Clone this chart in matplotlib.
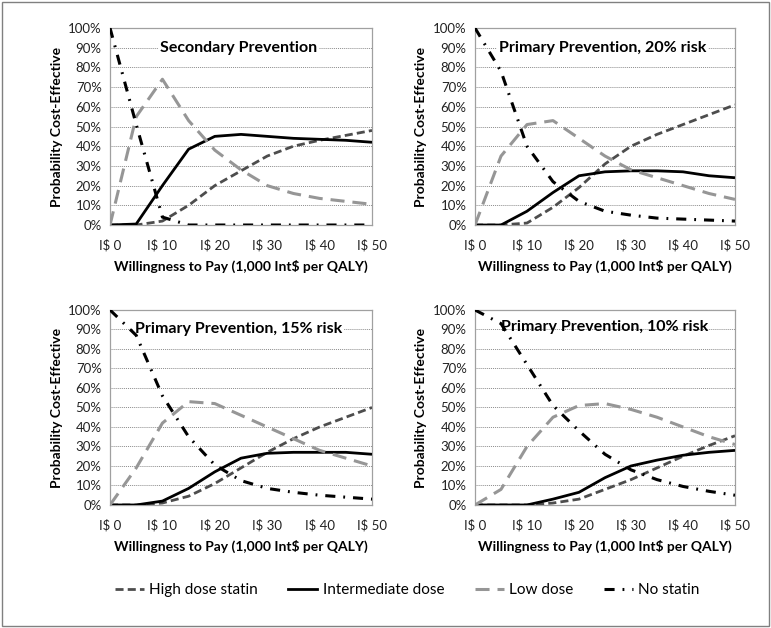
import matplotlib.pyplot as plt
from matplotlib.lines import Line2D
from matplotlib.patches import Rectangle

plt.rcParams['font.family'] = ['Lato', 'DejaVu Sans']

# willingness to pay, 1,000 Int$ per QALY
wtp = [0, 5, 10, 15, 20, 25, 30, 35, 40, 45, 50]
xtick_labels = ['I$ 0', 'I$ 10', 'I$ 20', 'I$ 30', 'I$ 40', 'I$ 50']
ytick_labels = [f'{v}%' for v in range(0, 101, 10)]

titles = ['Secondary Prevention', 'Primary Prevention, 20% risk',
          'Primary Prevention, 15% risk', 'Primary Prevention, 10% risk']
series_names = ['High dose statin', 'Intermediate dose', 'Low dose', 'No statin']

# probability cost-effective (%)
sec_high = [0, 0, 2, 10, 20, 27.5, 35, 40, 43, 45.5, 48]
sec_inter = [0, 0.5, 20, 38.5, 45, 46, 45, 44, 43.5, 43, 42]
sec_low = [0, 55, 74, 53, 38, 28, 20, 16, 13.5, 12, 10.5]
sec_none = [100, 51, 4, 0, 0, 0, 0, 0, 0, 0, 0]

p20_high = [0, 0, 1, 9, 19, 31, 40, 46, 51, 56, 61]
p20_inter = [0, 0, 7, 16.5, 25, 27, 27.5, 27.5, 27, 25, 24]
p20_low = [0, 35, 51, 53, 44, 35, 28, 24, 20, 16, 13]
p20_none = [100, 78, 40, 22, 12, 7, 5, 3.5, 3, 2.5, 2]

p15_high = [0, 0, 1, 4.5, 11, 19, 27, 34, 40, 45, 50]
p15_inter = [0, 0, 2, 8.5, 17, 24, 26.5, 27, 27, 27, 26]
p15_low = [0, 19, 42, 53, 52, 46, 40, 34, 28, 24, 20]
p15_none = [100, 87, 56, 35, 20.5, 12.5, 8.5, 6.5, 5, 4, 3]

p10_high = [0, 0, 0, 1, 3, 8, 13, 19, 25, 30.5, 35.5]
p10_inter = [0, 0, 0, 3, 6.5, 14, 20, 23, 25.5, 27, 28]
p10_low = [0, 8, 30, 45, 51, 52, 49, 45, 40, 35, 31]
p10_none = [100, 93, 72, 51, 38, 26, 18, 13, 9.5, 7, 5]

panels = [
    (sec_high, sec_inter, sec_low, sec_none),
    (p20_high, p20_inter, p20_low, p20_none),
    (p15_high, p15_inter, p15_low, p15_none),
    (p10_high, p10_inter, p10_low, p10_none),
]

# line styles for the four strategies
styles = [
    dict(color='#4d4d4d', lw=2.0, dashes=(2.9, 1.5)),
    dict(color='black', lw=2.0, linestyle='-'),
    dict(color='#969696', lw=2.2, dashes=(4.6, 2.6)),
    dict(color='black', lw=2.2, dashes=(3.3, 2.6, 0.6, 2.6)),
]

fig = plt.figure(figsize=(7.71, 6.28), dpi=100)

# axes rectangles [left, bottom, width, height]
rects = [
    [0.1427, 0.6417, 0.3398, 0.3137],
    [0.6161, 0.6417, 0.3372, 0.3137],
    [0.1427, 0.1959, 0.3398, 0.3105],
    [0.6161, 0.1959, 0.3372, 0.3105],
]

for i, (rect, data) in enumerate(zip(rects, panels)):
    ax = fig.add_axes(rect)
    for vals, st in zip(data, styles):
        ax.plot(wtp, vals, solid_capstyle='butt', dash_capstyle='butt', zorder=3, **st)
    ax.set_xlim(0, 50)
    ax.set_ylim(0, 100)
    ax.set_xticks(range(0, 51, 10))
    ax.set_xticklabels(xtick_labels)
    ax.set_yticks(range(0, 101, 10))
    ax.set_yticklabels(ytick_labels)
    ax.tick_params(length=0, labelsize=9.5, colors='#222222')
    ax.tick_params(axis='x', pad=10)
    ax.tick_params(axis='y', pad=6)
    ax.grid(axis='y', color='#8c8c8c', linestyle=(0, (1, 1)), linewidth=0.7)
    ax.set_axisbelow(True)
    for sp in ax.spines.values():
        sp.set_color('#a0a0a0')
        sp.set_linewidth(0.9)
    ax.set_xlabel('Willingness to Pay (1,000 Int$ per QALY)', fontsize=10,
                  fontweight='bold', labelpad=6)
    ax.set_ylabel('Probability Cost-Effective', fontsize=10, fontweight='bold',
                  labelpad=4)
    if i < 3:
        ax.text(0.49, 0.90, titles[i], transform=ax.transAxes, ha='center',
                va='center', fontsize=11.5, fontweight='bold', zorder=2,
                bbox=dict(facecolor='white', edgecolor='none', pad=1.5))
    else:
        ax.text(0.5, 0.915, titles[i], transform=ax.transAxes, ha='center',
                va='center', fontsize=11.5, fontweight='bold', zorder=2)

handles = [Line2D([], [], **st) for st in styles]
fig.legend(handles, series_names, loc='center', bbox_to_anchor=(0.528, 1 - 590 / 628),
           ncol=4, frameon=False, fontsize=11, handlelength=1.9,
           handletextpad=0.35, columnspacing=2.0)

# thin frame round the whole figure
fig.patches.append(Rectangle((0.002, 0.003), 0.995, 0.994, transform=fig.transFigure,
                             fill=False, edgecolor='#808080', linewidth=1.0))

fig.savefig('out.png', dpi=100)
